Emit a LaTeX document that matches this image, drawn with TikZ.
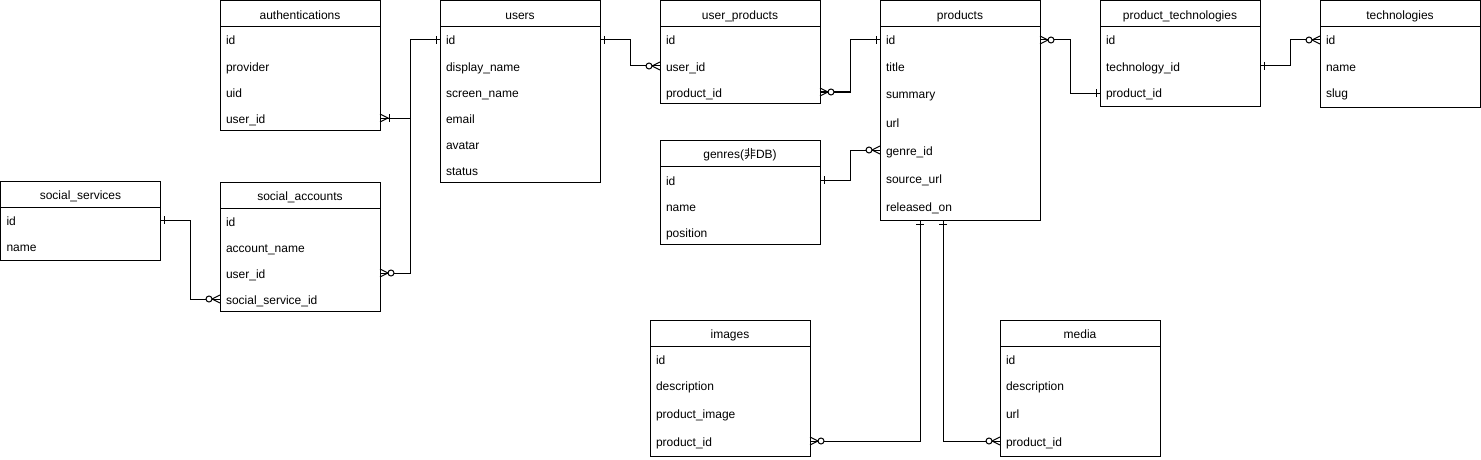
\documentclass[tikz,border=0pt]{standalone}
\usepackage{fontspec}
\setmainfont{Liberation Sans}
\newfontfamily\cjkfont{Noto Sans CJK JP}

\tikzset{
	tbl/.style={draw, anchor=north west, minimum width=160pt, inner sep=0pt, outer sep=0pt},
	fld/.style={anchor=west, text width=148pt, inner xsep=6pt, inner ysep=0pt, outer sep=0pt,
		align=left, text height=10.5pt, text depth=0.5pt},
	one/.pic={\draw (4,-4) -- (4,4);},
	zmany/.pic={\draw (0,-4) -- (8,0) -- (0,4); \draw[fill=white] (11,0) circle (3);},
	omany/.pic={\draw (0,-4) -- (8,0) -- (0,4); \draw (9,-4) -- (9,4);}
}

% table: name, x, y, height, title, rows
\newcommand\ertable[6]{%
	\node[tbl, minimum height=#4] (#1) at (#2,#3) {};
	\draw (#1.north west) ++(0,26) -- ++(160,0);
	\node[text height=10.5pt, text depth=0.5pt] (#1-h) at ([yshift=-13.5pt]#1.north) {#5};
	\foreach \dy/\txt [count=\i] in {#6}
		\node[fld] (#1-\i) at ([yshift=-\dy pt]#1.north west) {\txt};
}

\begin{document}
\begin{tikzpicture}[x=1pt, y=-1pt, line width=1pt, font={\fontsize{12}{14}\selectfont}]
		\useasboundingbox (0,0) rectangle (1481,460);
		\ertable{auth}{220}{1}{129}{authentications}{39/id,65/provider,91/uid,117/user\_id}
		\ertable{users}{440}{1}{181}{users}{39/id,65/display\_name,91/screen\_name,117/email,143/avatar,169/status}
		\ertable{uprod}{660}{1}{102}{user\_products}{39/id,65/user\_id,91/product\_id}
		\ertable{prod}{880}{1}{219}{products}{39/id,65/title,93/summary,121/url,149/genre\_id,177/source\_url,205/released\_on}
		\ertable{ptech}{1100}{1}{105}{product\_technologies}{39/id,65/technology\_id,92/product\_id}
		\ertable{tech}{1320}{1}{106}{technologies}{39/id,65/name,91/slug}
		\ertable{genres}{660}{140}{104}{genres({\cjkfont 非}DB)}{40/id,66/name,92/position}
		\ertable{ssvc}{0.5}{181}{79}{social\_services}{39/id,65/name}
		\ertable{sacct}{220}{182}{129}{social\_accounts}{39/id,65/account\_name,91/user\_id,117/social\_service\_id}
		\ertable{img}{650}{320}{136}{images}{39/id,65/description,93/product\_image,121/product\_id}
		\ertable{media}{1000}{320}{136}{media}{39/id,65/description,93/url,121/product\_id}

		% relations
		\draw (auth-4.east) -- ++(30,0) |- (users-1.west);
		\draw (sacct-3.east) -- ++(30,0) |- (users-1.west);
		\draw (users-1.east) -- ++(30,0) |- (uprod-2.west);
		\draw (uprod-3.east) -- ++(30,0) |- (prod-1.west);
		\draw (prod-1.east) -- ++(30,0) |- (ptech-3.west);
		\draw (ptech-2.east) -- ++(30,0) |- (tech-1.west);
		\draw (genres-1.east) -- ++(30,0) |- (prod-5.west);
		\draw (ssvc-1.east) -- ++(30,0) |- (sacct-4.west);
		\coordinate (pimg) at ([xshift=-40pt]prod.south);
		\coordinate (pmed) at ([xshift=-17pt]prod.south);
		\draw (pimg) |- (img-4.east);
		\draw (pmed) |- (media-4.west);

		% ends
		\pic at (auth-4.east) {omany};
		\pic[rotate=180] at (users-1.west) {one};
		\pic at (sacct-3.east) {zmany};
		\pic at (users-1.east) {one};
		\pic[rotate=180] at (uprod-2.west) {zmany};
		\pic at (uprod-3.east) {zmany};
		\pic[rotate=180] at (prod-1.west) {one};
		\pic at (prod-1.east) {zmany};
		\pic[rotate=180] at (ptech-3.west) {one};
		\pic at (ptech-2.east) {one};
		\pic[rotate=180] at (tech-1.west) {zmany};
		\pic at (genres-1.east) {one};
		\pic[rotate=180] at (prod-5.west) {zmany};
		\pic at (ssvc-1.east) {one};
		\pic[rotate=180] at (sacct-4.west) {zmany};
		\pic[rotate=-90] at (pimg) {one};
		\pic[rotate=-90] at (pmed) {one};
		\pic at (img-4.east) {zmany};
		\pic[rotate=180] at (media-4.west) {zmany};
		\end{tikzpicture}
\end{document}
